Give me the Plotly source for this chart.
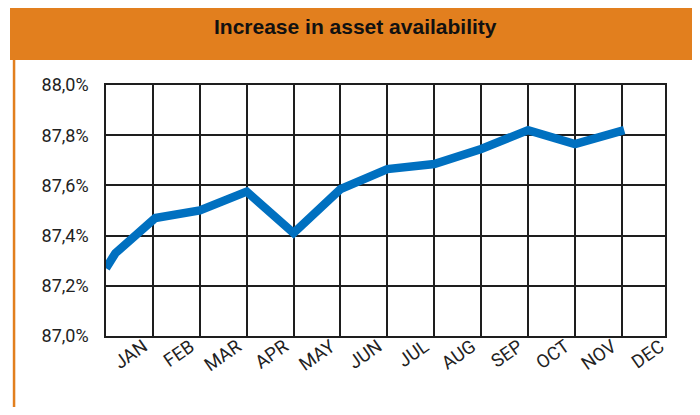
import plotly.graph_objects as go

# Data
x_pos = [0, 0.2, 1.05, 2, 3, 4, 5, 6, 7, 8, 9, 10, 11.05]
values = [87.27, 87.33, 87.47, 87.50, 87.575, 87.41, 87.585, 87.665, 87.685, 87.745, 87.82, 87.765, 87.82]
months = ["JAN", "FEB", "MAR", "APR", "MAY", "JUN", "JUL", "AUG", "SEP", "OCT", "NOV", "DEC"]
y_ticks = [87.0, 87.2, 87.4, 87.6, 87.8, 88.0]
y_labels = [f"{v:.1f}%".replace(".", ",") for v in y_ticks]
title = "Increase in asset availability"

OFF = 8  # page body margin
W, H = 700 - OFF, 415 - 2 * OFF
L, R, T, B = 106 - OFF, 665 - OFF, 85 - OFF, 336 - OFF
pw, ph = R - L, B - T

def px(x):
    return (x - OFF - L) / pw

def py(y):
    return (B - (y - OFF)) / ph

orange = "#E27F1E"
grid = "#1e1e1e"

fig = go.Figure()
fig.add_trace(go.Scatter(
    x=x_pos, y=values, mode="lines",
    line=dict(color="#0070C0", width=8.5),
    hoverinfo="skip", showlegend=False,
))

x_max = 11.92
label_pos = [i + 0.8 for i in range(11)] + [x_max - 0.1]

fig.update_layout(
    width=W, height=H,
    margin=dict(l=L, r=W - R, t=T, b=H - B),
    paper_bgcolor="white", plot_bgcolor="white",
    font=dict(family="Roboto, Open Sans, sans-serif", color="#222"),
    xaxis=dict(
        range=[0, x_max], showgrid=False, zeroline=False,
        tickmode="array", tickvals=label_pos, ticktext=months,
        tickangle=-35, tickfont=dict(size=18.5, color="#222"),
        ticks="", showline=True, linecolor=grid, linewidth=1.5, mirror=True,
        ticklabelstandoff=-9,
        minor=dict(tickmode="linear", tick0=0, dtick=1, showgrid=True,
                   gridcolor=grid, gridwidth=1.5, ticks=""),
    ),
    yaxis=dict(
        range=[87.0, 88.0], tickmode="array", tickvals=y_ticks, ticktext=y_labels,
        showgrid=True, gridcolor=grid, gridwidth=1.5, zeroline=False,
        showline=True, linecolor=grid, linewidth=1.5, mirror=True,
        tickfont=dict(size=18, color="#222"), ticks="",
        ticklabelstandoff=12,
    ),
    shapes=[
        dict(type="rect", xref="paper", yref="paper",
             x0=px(10), x1=px(700), y0=py(60), y1=py(0),
             fillcolor=orange, line=dict(width=0), layer="below"),
        dict(type="rect", xref="paper", yref="paper",
             x0=px(12.8), x1=px(15.3), y0=py(430), y1=py(59),
             fillcolor=orange, line=dict(width=0)),
        dict(type="rect", xref="paper", yref="paper",
             x0=px(692.5), x1=px(695.5), y0=py(430), y1=py(59),
             fillcolor=orange, line=dict(width=0)),
    ],
    annotations=[
        dict(text="<b>" + title + "</b>", xref="paper", yref="paper",
             x=px(355), y=py(27), showarrow=False, xanchor="center", yanchor="middle",
             font=dict(family="Liberation Sans, Roboto, sans-serif",
                       size=21, color="#111")),
    ],
)

fig.write_html("out.html")
